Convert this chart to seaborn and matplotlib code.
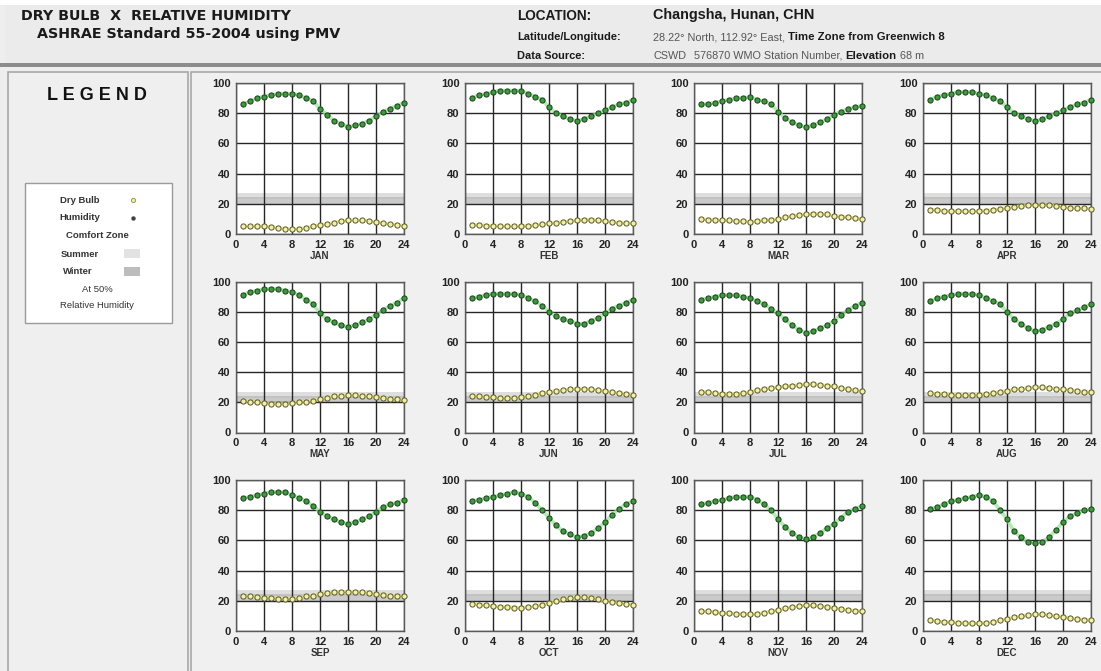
import matplotlib
matplotlib.use("Agg")
import matplotlib.pyplot as plt
from matplotlib.patches import Rectangle
from matplotlib.lines import Line2D
from matplotlib.text import Annotation
import pandas as pd
import seaborn as sns

# ---------------------------------------------------------------- data
hours = list(range(1, 25))
months = ["JAN", "FEB", "MAR", "APR", "MAY", "JUN",
          "JUL", "AUG", "SEP", "OCT", "NOV", "DEC"]

# hourly relative humidity (%)
rh_jan = [86, 88, 90, 91, 92, 93, 93, 93, 92, 90, 88, 83, 79, 75, 73, 71, 72, 73, 75, 78, 81, 83, 85, 87]
rh_feb = [90, 92, 93, 94, 95, 95, 95, 95, 93, 91, 89, 84, 80, 78, 76, 75, 76, 78, 80, 82, 84, 86, 87, 89]
rh_mar = [86, 86, 87, 88, 89, 90, 90, 91, 89, 88, 86, 81, 77, 74, 72, 71, 72, 74, 76, 79, 81, 83, 84, 85]
rh_apr = [89, 91, 92, 93, 94, 94, 94, 93, 92, 90, 88, 84, 80, 78, 76, 75, 76, 78, 80, 82, 84, 86, 87, 89]
rh_may = [91, 93, 94, 95, 95, 95, 94, 93, 91, 88, 85, 79, 75, 73, 71, 70, 71, 73, 75, 78, 81, 84, 86, 89]
rh_jun = [89, 90, 91, 92, 92, 92, 92, 91, 89, 87, 84, 80, 77, 75, 74, 72, 72, 74, 76, 79, 82, 84, 86, 88]
rh_jul = [88, 89, 90, 91, 91, 91, 90, 89, 87, 85, 82, 79, 75, 71, 68, 66, 67, 69, 71, 74, 78, 81, 84, 86]
rh_aug = [87, 89, 90, 91, 92, 92, 92, 91, 89, 87, 85, 80, 75, 72, 69, 67, 68, 70, 72, 75, 79, 81, 83, 85]
rh_sep = [88, 89, 90, 91, 92, 92, 92, 90, 88, 86, 83, 79, 76, 74, 72, 71, 72, 74, 76, 79, 82, 84, 85, 87]
rh_oct = [86, 87, 88, 89, 90, 91, 92, 91, 89, 85, 80, 75, 70, 66, 64, 62, 63, 65, 68, 72, 77, 81, 84, 86]
rh_nov = [84, 85, 86, 87, 88, 89, 89, 89, 87, 84, 80, 74, 69, 65, 62, 61, 62, 65, 68, 71, 75, 79, 81, 83]
rh_dec = [81, 82, 84, 86, 87, 88, 89, 90, 89, 86, 80, 74, 66, 62, 59, 58, 59, 62, 67, 72, 76, 78, 80, 81]

# hourly dry bulb temperature (deg C)
db_jan = [5, 5, 5, 5, 4.5, 4, 3.5, 3, 3.5, 4, 5, 6, 6.5, 7.5, 8.5, 9, 9, 9, 8.5, 8, 7, 6.5, 6, 5.5]
db_feb = [6, 6, 5.5, 5.5, 5, 5, 5, 5, 5.5, 6, 6.5, 7, 7.5, 8, 8.5, 9, 9.5, 9.5, 9, 8.5, 8, 7.5, 7, 7]
db_mar = [10, 9.5, 9.5, 9, 9, 8.5, 8.5, 8, 8.5, 9, 9.5, 10, 11, 12, 12.5, 13, 13.5, 13.5, 13, 12, 11.5, 11, 10.5, 10]
db_apr = [16, 16, 15.5, 15, 15, 15, 15, 15, 15.5, 16, 16.5, 17.5, 18, 18.5, 19, 19, 19, 19, 18.5, 18, 17.5, 17, 17, 16.5]
db_may = [21, 20.5, 20, 19.5, 19, 19, 19, 19.5, 20, 20.5, 21, 22, 23, 24, 24.5, 25, 25, 24.5, 24, 23.5, 23, 22.5, 22, 21.5]
db_jun = [24, 24, 23.5, 23.5, 23, 23, 23, 23.5, 24, 25, 26, 27, 27.5, 28, 28.5, 29, 29, 28.5, 28, 27.5, 27, 26, 25.5, 25]
db_jul = [27, 26.5, 26, 25.5, 25.5, 25.5, 26, 27, 28, 28.5, 29.5, 30, 30.5, 31, 31.5, 32, 32, 31.5, 31, 30.5, 29.5, 28.5, 28, 27.5]
db_aug = [26, 25.5, 25.5, 25, 25, 25, 25, 25, 25.5, 26, 27, 27.5, 28.5, 29, 29.5, 30, 30, 29.5, 29, 28.5, 28, 27.5, 27, 27]
db_sep = [23, 23, 22.5, 22, 22, 21.5, 21.5, 21.5, 22, 23, 23.5, 24.5, 25, 25.5, 26, 26, 26, 25.5, 25, 24.5, 24, 23.5, 23, 23]
db_oct = [18, 17.5, 17, 16.5, 16, 16, 15.5, 15.5, 16, 16.5, 17.5, 18.5, 20, 21, 22, 22.5, 22.5, 22, 21, 20, 19, 18.5, 18, 17.5]
db_nov = [13, 13, 12.5, 12, 12, 11.5, 11.5, 11, 11.5, 12, 13, 14, 15, 16, 16.5, 17, 17, 16.5, 16, 15.5, 14.5, 14, 13.5, 13]
db_dec = [7, 6.5, 6, 6, 5.5, 5.5, 5, 5, 5.5, 6, 7, 8, 9, 10, 10.5, 11, 11, 10.5, 10, 9.5, 8.5, 8, 7.5, 7]

humidity = [rh_jan, rh_feb, rh_mar, rh_apr, rh_may, rh_jun,
            rh_jul, rh_aug, rh_sep, rh_oct, rh_nov, rh_dec]
dry_bulb = [db_jan, db_feb, db_mar, db_apr, db_may, db_jun,
            db_jul, db_aug, db_sep, db_oct, db_nov, db_dec]

# ASHRAE 55 comfort band at 50% RH (deg C)
summer_zone = (23.0, 27.0)
winter_zone = (20.0, 24.5)

x_ticks = [0, 4, 8, 12, 16, 20, 24]
y_ticks = [0, 20, 40, 60, 80, 100]

frames = []
for m, rh, db in zip(months, humidity, dry_bulb):
    frames.append(pd.DataFrame({"month": m, "hour": hours,
                                "humidity": rh, "dry_bulb": db}))
df = pd.concat(frames, ignore_index=True)

# ---------------------------------------------------------------- figure
W, H = 1101, 671
sns.set_theme(style="white")
plt.rcParams["font.family"] = ["Liberation Sans", "DejaVu Sans"]

fig = plt.figure(figsize=(W / 100, H / 100), dpi=100)
fig.patch.set_facecolor("#eeeeee")


def fx(px):
    return px / W


def fy(py):
    return 1 - py / H


def box(x0, y0, x1, y1, fc, ec="none", lw=1.0, z=0):
    fig.add_artist(Rectangle((fx(x0), fy(y1)), fx(x1) - fx(x0), fy(y0) - fy(y1),
                             transform=fig.transFigure, facecolor=fc,
                             edgecolor=ec, linewidth=lw, zorder=z))


def follow(prev, text, **kw):
    """Place a text run directly after a previous one on the same line."""
    ann = Annotation(text, xy=(1, 0.5), xycoords=prev, va="center",
                     ha="left", annotation_clip=False, **kw)
    fig.add_artist(ann)
    return ann


# page frames
box(0, 0, W, 5, "white")
box(5, 5, W, 63, "#ebebeb")
box(0, 63, W, 67, "#8c8c8c")
box(8, 72, 188, H + 2, "#efefef", "#a8a8a8", 1.2)
box(191, 72, W + 2, H + 2, "#f0f0f0", "#a8a8a8", 1.2)

# header text
hdr = dict(transform=fig.transFigure, color="#1a1a1a", va="center")
fig.text(fx(21), fy(16), "DRY BULB  X  RELATIVE HUMIDITY", fontsize=10.3,
         fontweight="bold", family="DejaVu Sans", **hdr)
fig.text(fx(37), fy(34), "ASHRAE Standard 55-2004 using PMV", fontsize=10.3,
         fontweight="bold", family="DejaVu Sans", **hdr)
fig.text(fx(517), fy(16), "LOCATION:", fontsize=9.8, fontweight="bold", **hdr)
fig.text(fx(653), fy(15), "Changsha, Hunan, CHN", fontsize=10.4,
         fontweight="bold", **hdr)
fig.text(fx(517), fy(37), "Latitude/Longitude:", fontsize=7.9,
         fontweight="bold", **hdr)
fig.text(fx(517), fy(56), "Data Source:", fontsize=7.9, fontweight="bold", **hdr)

t1 = fig.text(fx(653), fy(37), "28.22\u00b0 North, 112.92\u00b0 East, ",
              fontsize=7.8, color="#555555", va="center",
              transform=fig.transFigure)
follow(t1, "Time Zone from Greenwich 8", fontsize=8.2, fontweight="bold",
       color="#1a1a1a")
fig.text(fx(653), fy(56), "CSWD", fontsize=7.8, color="#555555",
         va="center", transform=fig.transFigure)
t3 = fig.text(fx(694), fy(56), "576870 WMO Station Number, ", fontsize=7.8,
              color="#555555", va="center", transform=fig.transFigure)
a3 = follow(t3, "Elevation", fontsize=8.2, fontweight="bold", color="#1a1a1a")
follow(a3, " 68 m", fontsize=7.8, color="#555555")

# ---------------------------------------------------------------- legend panel
fig.text(fx(97), fy(96), "L E G E N D", fontsize=13, fontweight="black",
         ha="center", va="center", transform=fig.transFigure, color="#111111")
box(25, 183, 172, 323, "white", "#9a9a9a", 1.0, z=1)
leg_kw = dict(transform=fig.transFigure, ha="center", va="center",
              fontsize=6.8, color="#333333", zorder=3)
fig.text(fx(80), fy(200), "Dry Bulb", fontweight="bold", **leg_kw)
fig.text(fx(80), fy(218), "Humidity", fontweight="bold", **leg_kw)
fig.text(fx(97), fy(236), "Comfort Zone", fontweight="bold", **leg_kw)
fig.text(fx(80), fy(254), "Summer", fontweight="bold", **leg_kw)
fig.text(fx(78), fy(272), "Winter", fontweight="bold", **leg_kw)
fig.text(fx(97), fy(289), "At 50%", **leg_kw)
fig.text(fx(97), fy(306), "Relative Humidity", **leg_kw)
fig.add_artist(Line2D([fx(133)], [fy(200)], marker="o", markersize=3,
                      markerfacecolor="#f2ee9a", markeredgecolor="#8a8a50",
                      markeredgewidth=0.6, transform=fig.transFigure, zorder=3))
fig.add_artist(Line2D([fx(133)], [fy(218)], marker="o", markersize=2.2,
                      markerfacecolor="#444444", markeredgecolor="#444444",
                      transform=fig.transFigure, zorder=3))
box(124, 249, 140, 258, "#e2e2e2", z=2)
box(124, 267, 140, 276, "#bdbdbd", z=2)

# ---------------------------------------------------------------- monthly panels
ax_w, ax_h = 168, 151
for i, m in enumerate(months):
    r, c = divmod(i, 4)
    left = 236 + 229 * c
    top = 83 + 198.5 * r
    ax = fig.add_axes([fx(left), fy(top + ax_h), ax_w / W, ax_h / H])
    ax.set_facecolor("white")

    ax.axhspan(*summer_zone, color="#dedede", lw=0, zorder=0.5)
    ax.axhspan(*winter_zone, color="#b9b9b9", alpha=0.75, lw=0, zorder=0.6)

    sub = df[df["month"] == m]
    sns.lineplot(data=sub, x="hour", y="dry_bulb", ax=ax, color="#ecec7a",
                 lw=2.6, alpha=0.75, zorder=2)
    sns.lineplot(data=sub, x="hour", y="humidity", ax=ax, color="#9be39b",
                 lw=2.6, alpha=0.75, zorder=2)
    sns.scatterplot(data=sub, x="hour", y="dry_bulb", ax=ax, s=14,
                    color="#f3efa8", edgecolor="#55552e", linewidth=0.7,
                    zorder=3, clip_on=False)
    sns.scatterplot(data=sub, x="hour", y="humidity", ax=ax, s=14,
                    color="#3d9a3d", edgecolor="#1e3d1e", linewidth=0.7,
                    zorder=3, clip_on=False)

    ax.set_xlim(0, 24)
    ax.set_ylim(0, 100)
    ax.set_xticks(x_ticks)
    ax.set_yticks(y_ticks)
    ax.grid(True, color="#262626", lw=1.0)
    ax.set_axisbelow("line")
    for s in ax.spines.values():
        s.set_color("#5a5a5a")
        s.set_linewidth(1.0)
    ax.tick_params(axis="both", which="both", length=2.5, width=0.8,
                   color="#333333", pad=1.5, labelsize=8,
                   labelcolor="#222222")
    for lab in ax.get_xticklabels() + ax.get_yticklabels():
        lab.set_fontweight("bold")
    ax.set_xlabel(m, fontsize=7, fontweight="bold", color="#333333", labelpad=1)
    ax.set_ylabel("")

fig.savefig("out.png", dpi=100, facecolor=fig.get_facecolor())
